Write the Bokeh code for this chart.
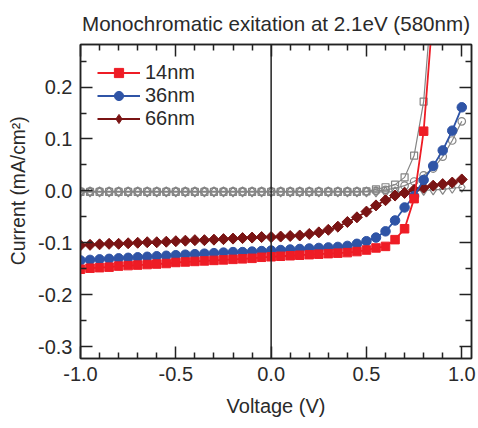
from bokeh.plotting import figure
from bokeh.models import (Range1d, FixedTicker, LinearAxis, Span, Legend, LegendItem)
from bokeh.embed import file_html
from bokeh.resources import INLINE

voltage = [-1.00, -0.95, -0.90, -0.85, -0.80, -0.75, -0.70, -0.65, -0.60, -0.55,
           -0.50, -0.45, -0.40, -0.35, -0.30, -0.25, -0.20, -0.15, -0.10, -0.05,
           0.00, 0.05, 0.10, 0.15, 0.20, 0.25, 0.30, 0.35, 0.40, 0.45,
           0.50, 0.55, 0.60, 0.65, 0.70, 0.75, 0.80, 0.85, 0.90, 0.95, 1.00]

# illuminated (580 nm)
light_14nm = [-0.151, -0.149, -0.148, -0.147, -0.145, -0.144, -0.143, -0.142, -0.141, -0.140,
              -0.138, -0.137, -0.136, -0.135, -0.134, -0.133, -0.132, -0.131, -0.130, -0.128,
              -0.127, -0.126, -0.125, -0.124, -0.123, -0.122, -0.121, -0.120, -0.119, -0.117,
              -0.114, -0.110, -0.107, -0.094, -0.073, -0.015, 0.115, 0.350, 0.650, 1.000, 1.400]
light_36nm = [-0.134, -0.133, -0.132, -0.131, -0.130, -0.129, -0.128, -0.127, -0.126, -0.125,
              -0.124, -0.123, -0.122, -0.121, -0.120, -0.119, -0.118, -0.118, -0.117, -0.116,
              -0.115, -0.114, -0.113, -0.112, -0.111, -0.110, -0.109, -0.108, -0.106, -0.102,
              -0.097, -0.090, -0.078, -0.057, -0.032, -0.010, 0.021, 0.048, 0.078, 0.116, 0.161]
light_66nm = [-0.105, -0.104, -0.103, -0.102, -0.102, -0.101, -0.100, -0.099, -0.099, -0.098,
              -0.097, -0.096, -0.095, -0.095, -0.094, -0.093, -0.092, -0.091, -0.090, -0.089,
              -0.089, -0.088, -0.087, -0.086, -0.083, -0.080, -0.075, -0.069, -0.060, -0.051,
              -0.040, -0.028, -0.018, -0.009, -0.004, 0.002, 0.006, 0.010, 0.013, 0.016, 0.022]
# dark curves
dark_14nm = [-0.002, -0.002, -0.002, -0.002, -0.002, -0.002, -0.002, -0.002, -0.002, -0.002,
             -0.002, -0.002, -0.002, -0.002, -0.002, -0.002, -0.002, -0.002, -0.002, -0.002,
             -0.002, -0.002, -0.002, -0.002, -0.002, -0.002, -0.002, -0.002, -0.002, -0.002,
             -0.001, 0.003, 0.007, 0.012, 0.026, 0.068, 0.172, 0.400, 0.800, 1.300, 2.000]
dark_36nm = [-0.001, -0.001, -0.001, -0.001, -0.001, -0.001, -0.001, -0.001, -0.001, -0.001,
             -0.001, -0.001, -0.001, -0.001, -0.001, -0.001, -0.001, -0.001, -0.001, -0.001,
             -0.001, -0.001, -0.001, -0.001, -0.001, -0.001, -0.001, -0.001, -0.001, -0.001,
             -0.001, 0.000, 0.002, 0.005, 0.010, 0.018, 0.030, 0.043, 0.066, 0.097, 0.134]
dark_66nm = [-0.002, -0.002, -0.002, -0.002, -0.002, -0.002, -0.002, -0.002, -0.002, -0.002,
             -0.002, -0.002, -0.002, -0.002, -0.002, -0.002, -0.002, -0.002, -0.002, -0.002,
             -0.002, -0.002, -0.002, -0.002, -0.002, -0.002, -0.002, -0.002, -0.002, -0.002,
             -0.002, -0.002, -0.002, -0.002, -0.002, 0.000, 0.001, 0.002, 0.003, 0.005, 0.007]

x_ticks = [-1.0, -0.5, 0.0, 0.5, 1.0]
x_tick_labels = ["-1.0", "-0.5", "0.0", "0.5", "1.0"]
x_minor = [-0.9, -0.8, -0.7, -0.6, -0.4, -0.3, -0.2, -0.1, 0.1, 0.2, 0.3, 0.4, 0.6, 0.7, 0.8, 0.9]
y_ticks = [-0.3, -0.2, -0.1, 0.0, 0.1, 0.2]
y_tick_labels = ["-0.3", "-0.2", "-0.1", "0.0", "0.1", "0.2"]
y_minor = [-0.25, -0.15, -0.05, 0.05, 0.15, 0.25]

FONT = "Liberation Sans"
TXT = "#2a2a2a"
AX = "#222222"
RED = "#ee1c25"
BLUE = "#2f54a6"
MAROON = "#7a1414"
GRAY = "#858585"

p = figure(width=478, height=428, output_backend="svg", toolbar_location=None,
           x_range=Range1d(-1.0, 1.051), y_range=Range1d(-0.323, 0.282),
           x_axis_type=None, y_axis_type=None,
           min_border_left=80, min_border_right=7, min_border_top=43, min_border_bottom=70)
p.title.text = "Monochromatic exitation at 2.1eV (580nm)"
p.title.align = "center"
p.title.text_font = FONT
p.title.text_font_size = "20.6px"
p.title.text_font_style = "normal"
p.title.text_color = TXT
p.title.standoff = 19
p.outline_line_color = AX
p.outline_line_width = 1.5

xb = LinearAxis(ticker=FixedTicker(ticks=x_ticks, minor_ticks=x_minor),
                major_label_overrides=dict(zip(x_ticks, x_tick_labels)))
xt = LinearAxis(ticker=FixedTicker(ticks=x_ticks, minor_ticks=x_minor),
                major_label_overrides={t: "" for t in x_ticks})
yl = LinearAxis(ticker=FixedTicker(ticks=y_ticks, minor_ticks=y_minor),
                major_label_overrides=dict(zip(y_ticks, y_tick_labels)))
yr = LinearAxis(ticker=FixedTicker(ticks=y_ticks, minor_ticks=y_minor),
                major_label_overrides={t: "" for t in y_ticks})
p.add_layout(xb, "below")
p.add_layout(xt, "above")
p.add_layout(yl, "left")
p.add_layout(yr, "right")

for ax in (xb, xt, yl, yr):
    ax.axis_line_color = AX
    ax.axis_line_width = 1.5
    ax.major_tick_in = 12
    ax.major_tick_out = 0
    ax.minor_tick_in = 6
    ax.minor_tick_out = 0
    ax.major_tick_line_color = AX
    ax.minor_tick_line_color = AX
    ax.major_tick_line_width = 1.5
    ax.minor_tick_line_width = 1.5
    ax.major_label_text_font = FONT
    ax.major_label_text_font_size = "20px"
    ax.major_label_text_color = TXT
    ax.axis_label_text_font = FONT
    ax.axis_label_text_font_size = "20px"
    ax.axis_label_text_font_style = "normal"
    ax.axis_label_text_color = TXT

xb.axis_label = "Voltage (V)"
xb.major_label_standoff = 8
xb.axis_label_standoff = 11
# leading no-break spaces shift the centred title up toward the zero line, as in the reference
yl.axis_label = "\u00a0\u00a0\u00a0\u00a0Current (mA/cm²)"
yl.axis_label_text_font_size = "19.3px"
yl.major_label_standoff = 8
yl.axis_label_standoff = 6
for ax in (xt, yr):
    ax.major_label_text_font_size = "2px"
    ax.major_label_standoff = 0

p.add_layout(Span(location=0, dimension="height", line_color=AX, line_width=1.5))

# dark curves (open gray markers)
p.line(voltage, dark_66nm, line_color=GRAY, line_width=1.2)
p.scatter(voltage, dark_66nm, marker="diamond", size=10, fill_color=None, line_color=GRAY, line_width=1.2)
p.line(voltage, dark_36nm, line_color=GRAY, line_width=1.2)
p.scatter(voltage, dark_36nm, marker="circle", size=7.5, fill_color=None, line_color=GRAY, line_width=1.2)
p.line(voltage, dark_14nm, line_color=GRAY, line_width=1.2)
p.scatter(voltage, dark_14nm, marker="square", size=7, fill_color=None, line_color=GRAY, line_width=1.2)

# illuminated curves
l66 = p.line(voltage, light_66nm, line_color=MAROON, line_width=1.8)
# diamond glyph (hidden under the rotated squares) that gives the legend its diamond
k66 = p.scatter(voltage, light_66nm, marker="diamond", size=9, fill_color=MAROON, line_color=MAROON)
s66 = p.scatter(voltage, light_66nm, marker="square", angle=0.785398, size=7.8, fill_color=MAROON, line_color=MAROON)
l36 = p.line(voltage, light_36nm, line_color=BLUE, line_width=1.8)
s36 = p.scatter(voltage, light_36nm, marker="circle", size=9.5, fill_color=BLUE, line_color=BLUE)
l14 = p.line(voltage, light_14nm, line_color=RED, line_width=1.8)
s14 = p.scatter(voltage, light_14nm, marker="square", size=8.5, fill_color=RED, line_color=RED)

legend = Legend(items=[LegendItem(label="14nm", renderers=[l14, s14]),
                       LegendItem(label="36nm", renderers=[l36, s36]),
                       LegendItem(label="66nm", renderers=[l66, k66])],
                location="top_left", border_line_color=None, background_fill_alpha=0,
                label_text_font=FONT, label_text_font_size="20px", label_text_color=TXT,
                glyph_width=43, glyph_height=23, label_height=19, spacing=0,
                margin=17, padding=8, label_standoff=5)
p.add_layout(legend)

open("out.html", "w").write(file_html(p, INLINE))
